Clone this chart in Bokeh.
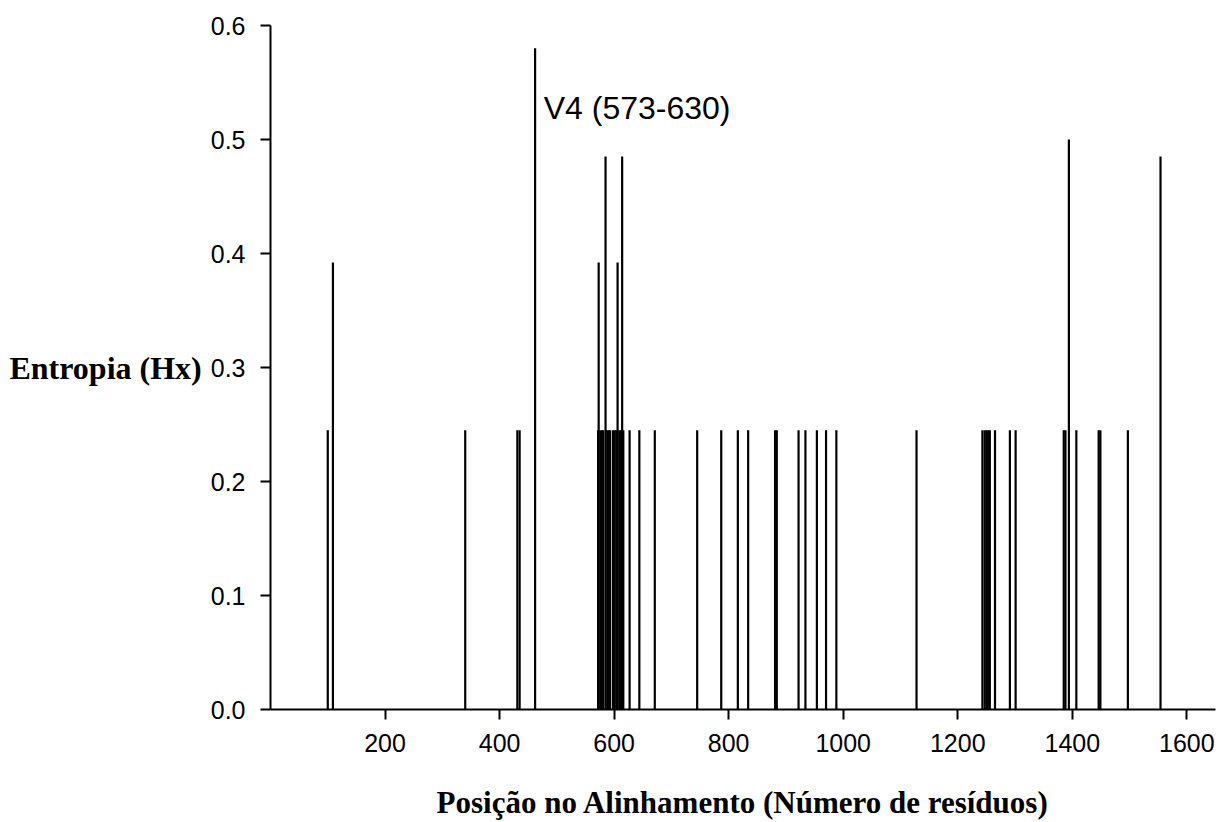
from bokeh.plotting import figure
from bokeh.models import ColumnDataSource, FixedTicker, PrintfTickFormatter, Range1d
from bokeh.core.properties import value
from bokeh.embed import file_html
from bokeh.resources import INLINE

# Alignment positions (residue number) with non-zero entropy
positions = [100, 109, 340, 431, 435, 462,
             572, 573, 576, 579, 581, 585, 588, 591, 593, 598, 601, 604, 606, 609, 612, 614, 616,
             627, 644, 671, 745, 787, 816, 834, 881, 884, 922, 934, 954, 970, 988,
             1128, 1243, 1247, 1250, 1253, 1256, 1265, 1291, 1301,
             1385, 1388, 1394, 1407, 1446, 1449, 1497, 1554]
entropy = [0.245, 0.392, 0.245, 0.245, 0.245, 0.58,
           0.245, 0.392, 0.245, 0.245, 0.245, 0.485, 0.245, 0.245, 0.245, 0.245, 0.245, 0.245, 0.392, 0.245, 0.245, 0.485, 0.245,
           0.245, 0.245, 0.245, 0.245, 0.245, 0.245, 0.245, 0.245, 0.245, 0.245, 0.245, 0.245, 0.245, 0.245,
           0.245, 0.245, 0.245, 0.245, 0.245, 0.245, 0.245, 0.245, 0.245,
           0.245, 0.245, 0.5, 0.245, 0.245, 0.245, 0.245, 0.485]
x_ticks = [200, 400, 600, 800, 1000, 1200, 1400, 1600]
y_ticks = [0.0, 0.1, 0.2, 0.3, 0.4, 0.5, 0.6]
region_label = "V4 (573-630)"
region_label_x = 477
region_label_y = 0.528
x_title = "Posição no Alinhamento (Número de resíduos)"
y_title = "Entropia (Hx)"

src = ColumnDataSource(dict(x=positions, h=entropy, zero=[0.0] * len(positions)))

p = figure(width=1217, height=822, output_backend="svg", toolbar_location=None,
           x_range=Range1d(0, 1650), y_range=Range1d(0, 0.6),
           min_border_left=270, min_border_top=25, min_border_right=2, min_border_bottom=113)
p.outline_line_color = None
p.xgrid.visible = False
p.ygrid.visible = False
p.background_fill_color = "white"
p.border_fill_color = "white"

p.segment(x0="x", y0="zero", x1="x", y1="h", source=src, line_color="black", line_width=2.2)

p.text(x=[region_label_x], y=[region_label_y], text=[region_label],
       text_font=value("Liberation Sans"), text_font_size="32px",
       text_baseline="middle", text_align="left", text_color="black")

for ax in (p.xaxis[0], p.yaxis[0]):
    ax.axis_line_width = 2
    ax.axis_line_color = "black"
    ax.major_tick_line_width = 2
    ax.major_tick_in = 0
    ax.major_tick_out = 10
    ax.minor_tick_line_color = None
    ax.major_label_text_font = "Liberation Sans"
    ax.major_label_text_font_size = "25px"
    ax.major_label_text_color = "black"
    ax.axis_label_text_font = "Liberation Serif"
    ax.axis_label_text_font_style = "bold"
    ax.axis_label_text_font_size = "31px"
    ax.axis_label_text_color = "black"

p.xaxis.ticker = FixedTicker(ticks=x_ticks)
p.xaxis.major_label_standoff = 14
p.xaxis.axis_label = x_title
p.xaxis.axis_label_standoff = 30

p.yaxis.ticker = FixedTicker(ticks=y_ticks)
p.yaxis.formatter = PrintfTickFormatter(format="%.1f")
p.yaxis.major_label_standoff = 15
p.yaxis.axis_label = y_title
p.yaxis.axis_label_orientation = "horizontal"
p.yaxis.axis_label_standoff = 6
p.yaxis.axis_label_text_font_size = "32px"

open("out.html", "w").write(file_html(p, INLINE))
